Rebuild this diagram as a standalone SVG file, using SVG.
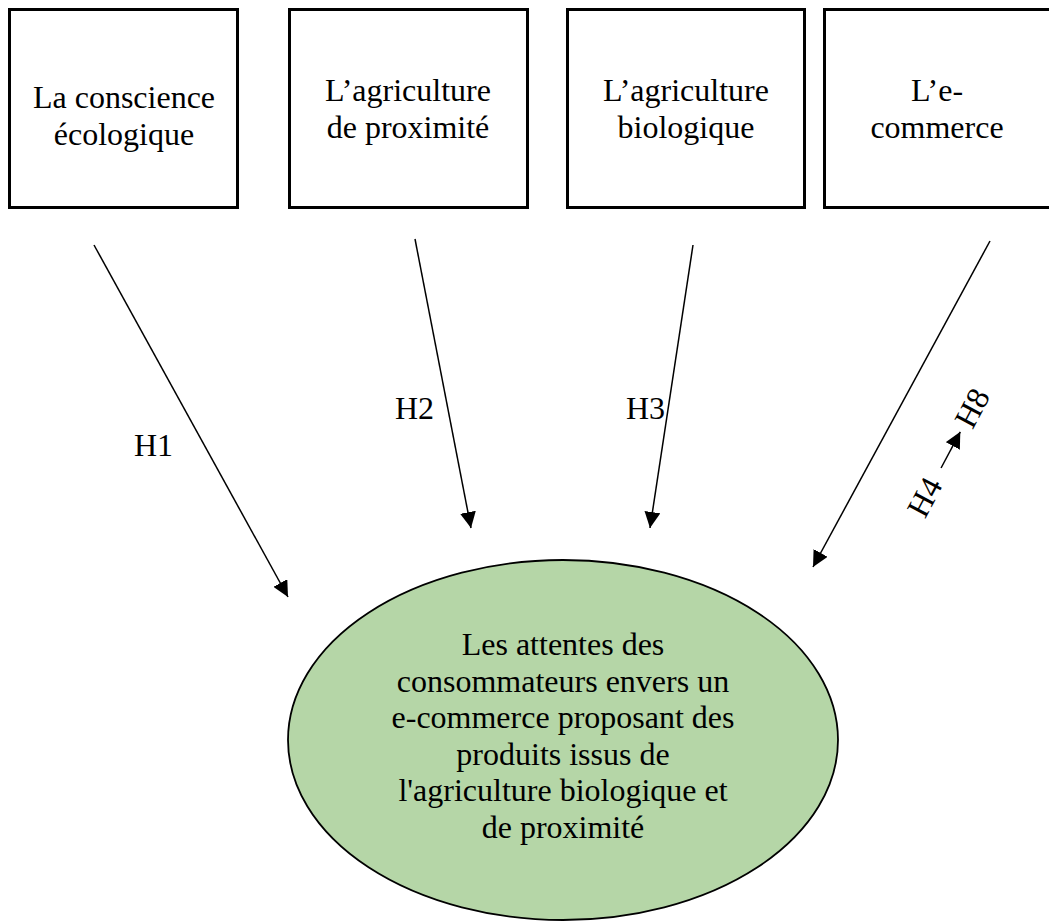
<svg xmlns="http://www.w3.org/2000/svg" width="1049" height="921" viewBox="0 0 1049 921">
<style>
.box{fill:#fff;stroke:#000;stroke-width:3}
.t{font-family:"Liberation Serif","Times New Roman",serif;font-size:32px;fill:#000;text-anchor:middle}
.lbl{font-family:"Liberation Serif","Times New Roman",serif;font-size:32px;fill:#000}
.c{stroke:#000;stroke-width:1.5;fill:none}
</style>
<defs>
<marker id="ah" viewBox="0 0 10 10" refX="10" refY="5" markerUnits="userSpaceOnUse" markerWidth="16" markerHeight="16" orient="auto">
<path d="M0,0 L10,5 L0,10 Z" fill="#000"/>
</marker>
</defs>
<rect width="1049" height="921" fill="#fff"/>
<g id="n1">
<rect class="box" x="9.5" y="9.5" width="228" height="198"/>
<text class="t" x="124" y="108">La conscience</text>
<text class="t" x="124" y="145">écologique</text>
</g>
<g id="n2">
<rect class="box" x="289.5" y="9.5" width="238" height="198"/>
<text class="t" x="408" y="101">L’agriculture</text>
<text class="t" x="408" y="138">de proximité</text>
</g>
<g id="n3">
<rect class="box" x="567.5" y="9.5" width="237" height="198"/>
<text class="t" x="686" y="101">L’agriculture</text>
<text class="t" x="686" y="138">biologique</text>
</g>
<g id="n4">
<rect class="box" x="824.5" y="9.5" width="228" height="198"/>
<text class="t" x="937" y="101">L’e-</text>
<text class="t" x="937" y="138">commerce</text>
</g>
<g id="center">
<ellipse cx="563" cy="740" rx="275" ry="180" fill="#b5d6a7" stroke="#000" stroke-width="1.8"/>
<text class="t" x="563" y="655">Les attentes des</text>
<text class="t" x="563" y="692">consommateurs envers un</text>
<text class="t" x="563" y="728">e-commerce proposant des</text>
<text class="t" x="563" y="765">produits issus de</text>
<text class="t" x="563" y="801">l'agriculture biologique et</text>
<text class="t" x="563" y="838">de proximité</text>
</g>
<g id="connectors">
<line class="c" x1="94" y1="245" x2="288" y2="597" marker-end="url(#ah)"/>
<line class="c" x1="415" y1="239" x2="471" y2="528" marker-end="url(#ah)"/>
<line class="c" x1="693" y1="245" x2="650" y2="528" marker-end="url(#ah)"/>
<line class="c" x1="990" y1="241" x2="813" y2="567" marker-end="url(#ah)"/>
</g>
<g id="labels">
<text class="lbl" x="134" y="456">H1</text>
<text class="lbl" x="395" y="419">H2</text>
<text class="lbl" x="626" y="419">H3</text>
<g transform="translate(925,519.5) rotate(-62)">
<text class="lbl" x="0" y="0">H4</text>
<line class="c" x1="53" y1="-10" x2="94" y2="-10" stroke-width="2" marker-end="url(#ah)"/>
<text class="lbl" x="101" y="0">H8</text>
</g>
</g>
</svg>
